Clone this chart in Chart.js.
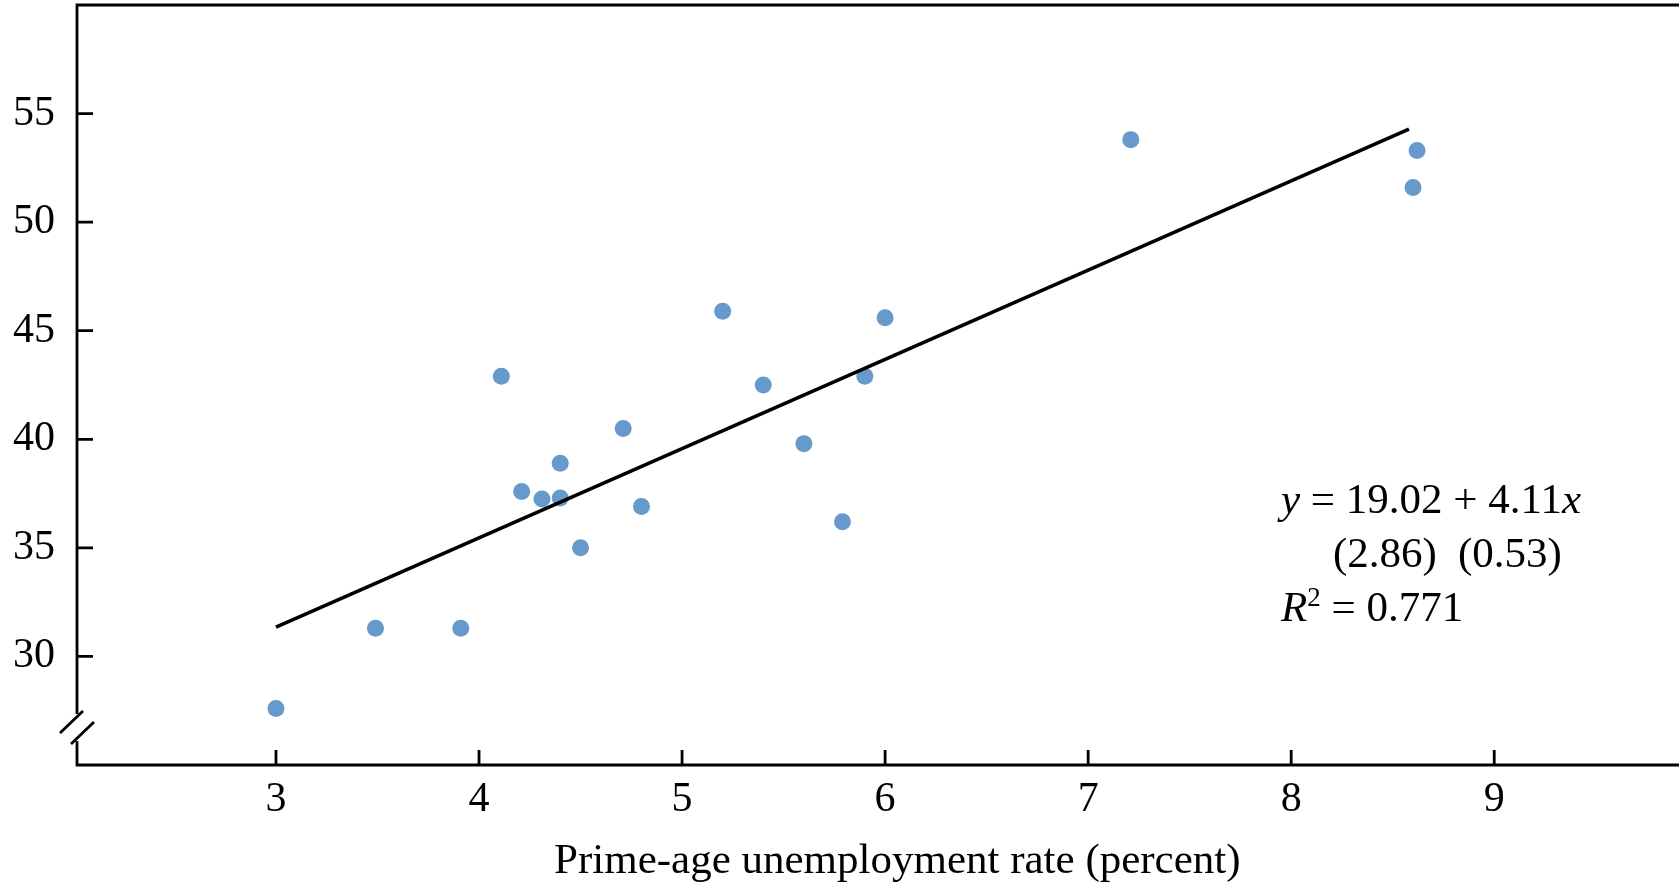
<!DOCTYPE html>
<html>
<head>
<meta charset="utf-8">
<script src="https://cdn.jsdelivr.net/npm/chart.js@4/dist/chart.umd.min.js"></script>
<style>
  html, body { margin: 0; padding: 0; background: #ffffff; }
  #wrap { width: 1679px; height: 883px; }
</style>
</head>
<body>
<div id="wrap"><canvas id="c" width="1679" height="883"></canvas></div>
<script>
// Observations: prime-age unemployment rate (percent) and the outcome variable
const unemploymentRate = [3.0, 3.49, 3.91, 4.11, 4.21, 4.31, 4.4, 4.4, 4.5, 4.71, 4.8, 5.2, 5.4, 5.6, 5.79, 5.9, 6.0, 7.21, 8.6, 8.62];
const outcomeValue     = [27.6, 31.3, 31.3, 42.9, 37.6, 37.25, 37.3, 38.9, 35.0, 40.5, 36.9, 45.9, 42.5, 39.8, 36.2, 42.9, 45.6, 53.8, 51.6, 53.3];

// Fitted line: y = 19.02 + 4.11x, drawn over the span of the fit
const fitIntercept = 19.02;
const fitSlope = 4.11;
const fitSpan = [3.0, 8.58];

// Tick labels
const xTickValues = [3, 4, 5, 6, 7, 8, 9];
const yTickValues = [30, 35, 40, 45, 50, 55];

// Annotation text
const eqLine1 = ['y', ' = 19.02 + 4.11', 'x'];
const eqLine2 = ['(2.86)', '(0.53)'];
const eqLine3 = ['R', '2', ' = 0.771'];
const xTitle = 'Prime-age unemployment rate (percent)';

const SERIF = '"Liberation Serif", "Times New Roman", serif';
const TICK_PX = 42;
const TEXT_PX = 43;

const points = unemploymentRate.map((x, i) => ({ x: x, y: outcomeValue[i] }));
const fitLine = fitSpan.map(x => ({ x: x, y: fitIntercept + fitSlope * x }));

function zeroPadding(scale) {
  scale.paddingTop = 0;
  scale.paddingBottom = 0;
  scale.paddingLeft = 0;
  scale.paddingRight = 0;
}

const framePlugin = {
  id: 'frame',
  afterDraw(chart) {
    const ctx = chart.ctx;
    const xs = chart.scales.x, ys = chart.scales.y;
    const area = chart.chartArea;
    ctx.save();
    ctx.strokeStyle = '#000';
    ctx.fillStyle = '#000';
    ctx.lineWidth = 2.8;
    ctx.lineCap = 'butt';

    const left = area.left, bottom = area.bottom, top = area.top;
    // broken left axis
    const breakTop = bottom - 51, breakBot = bottom - 24;
    ctx.beginPath();
    ctx.moveTo(left, top - 1.4); ctx.lineTo(left, breakTop);
    ctx.moveTo(left, breakBot); ctx.lineTo(left, bottom);
    // top border
    ctx.moveTo(left - 1.4, top); ctx.lineTo(chart.width, top);
    // bottom axis
    ctx.moveTo(left - 1.4, bottom); ctx.lineTo(chart.width, bottom);
    ctx.stroke();

    // axis break slashes
    ctx.beginPath();
    ctx.moveTo(left - 17, bottom - 32); ctx.lineTo(left + 6, bottom - 54);
    ctx.moveTo(left - 6, bottom - 21); ctx.lineTo(left + 17, bottom - 43);
    ctx.stroke();

    // inward tick marks
    ctx.beginPath();
    yTickValues.forEach(v => {
      const py = ys.getPixelForValue(v);
      ctx.moveTo(left, py); ctx.lineTo(left + 16, py);
    });
    xTickValues.forEach(v => {
      const px = xs.getPixelForValue(v);
      ctx.moveTo(px, bottom); ctx.lineTo(px, bottom - 15);
    });
    ctx.stroke();

    // x-axis title
    ctx.font = TEXT_PX + 'px ' + SERIF;
    ctx.textAlign = 'center';
    ctx.textBaseline = 'alphabetic';
    ctx.fillText(xTitle, xs.getPixelForValue(6.06), bottom + 108);

    // regression annotation
    ctx.textAlign = 'left';
    const ax = xs.getPixelForValue(7.95);
    const ay = ys.getPixelForValue(36.6);
    const lineGap = 54;
    const italic = 'italic ' + TEXT_PX + 'px ' + SERIF;
    const roman = TEXT_PX + 'px ' + SERIF;

    let cx = ax;
    ctx.font = italic; ctx.fillText(eqLine1[0], cx, ay); cx += ctx.measureText(eqLine1[0]).width;
    ctx.font = roman; ctx.fillText(eqLine1[1], cx, ay); cx += ctx.measureText(eqLine1[1]).width;
    ctx.font = italic; ctx.fillText(eqLine1[2], cx, ay);

    ctx.font = roman;
    ctx.fillText(eqLine2[0], ax + 52, ay + lineGap);
    ctx.fillText(eqLine2[1], ax + 177, ay + lineGap);

    cx = ax;
    const y3 = ay + 2 * lineGap;
    ctx.font = italic; ctx.fillText(eqLine3[0], cx, y3); cx += ctx.measureText(eqLine3[0]).width;
    ctx.font = '27px ' + SERIF; ctx.fillText(eqLine3[1], cx, y3 - 15); cx += ctx.measureText(eqLine3[1]).width;
    ctx.font = roman; ctx.fillText(eqLine3[2], cx, y3);

    ctx.restore();
  }
};

new Chart(document.getElementById('c'), {
  type: 'scatter',
  data: {
    datasets: [
      {
        type: 'line',
        data: fitLine,
        borderColor: '#000000',
        borderWidth: 3.6,
        pointRadius: 0,
        fill: false,
        order: 0
      },
      {
        data: points,
        backgroundColor: '#6699cc',
        borderWidth: 0,
        pointRadius: 8.5,
        pointHoverRadius: 8.5,
        order: 1
      }
    ]
  },
  options: {
    responsive: false,
    animation: false,
    events: [],
    layout: { autoPadding: false, padding: { top: 5, left: 0, right: 0, bottom: 0 } },
    plugins: { legend: { display: false }, tooltip: { enabled: false } },
    scales: {
      x: {
        type: 'linear',
        min: 2.02,
        max: 9.91,
        grid: { display: false },
        border: { display: false },
        afterBuildTicks(scale) { scale.ticks = xTickValues.map(v => ({ value: v })); },
        afterFit(scale) { scale.height = 118; zeroPadding(scale); },
        ticks: {
          color: '#000',
          font: { family: SERIF, size: TICK_PX },
          padding: 2,
          maxRotation: 0,
          autoSkip: false
        }
      },
      y: {
        type: 'linear',
        min: 25,
        max: 60,
        grid: { display: false },
        border: { display: false },
        afterBuildTicks(scale) { scale.ticks = yTickValues.map(v => ({ value: v })); },
        afterFit(scale) { scale.width = 77; zeroPadding(scale); },
        ticks: {
          color: '#000',
          font: { family: SERIF, size: TICK_PX },
          padding: 14,
          autoSkip: false
        }
      }
    }
  },
  plugins: [framePlugin]
});
</script>
</body>
</html>
